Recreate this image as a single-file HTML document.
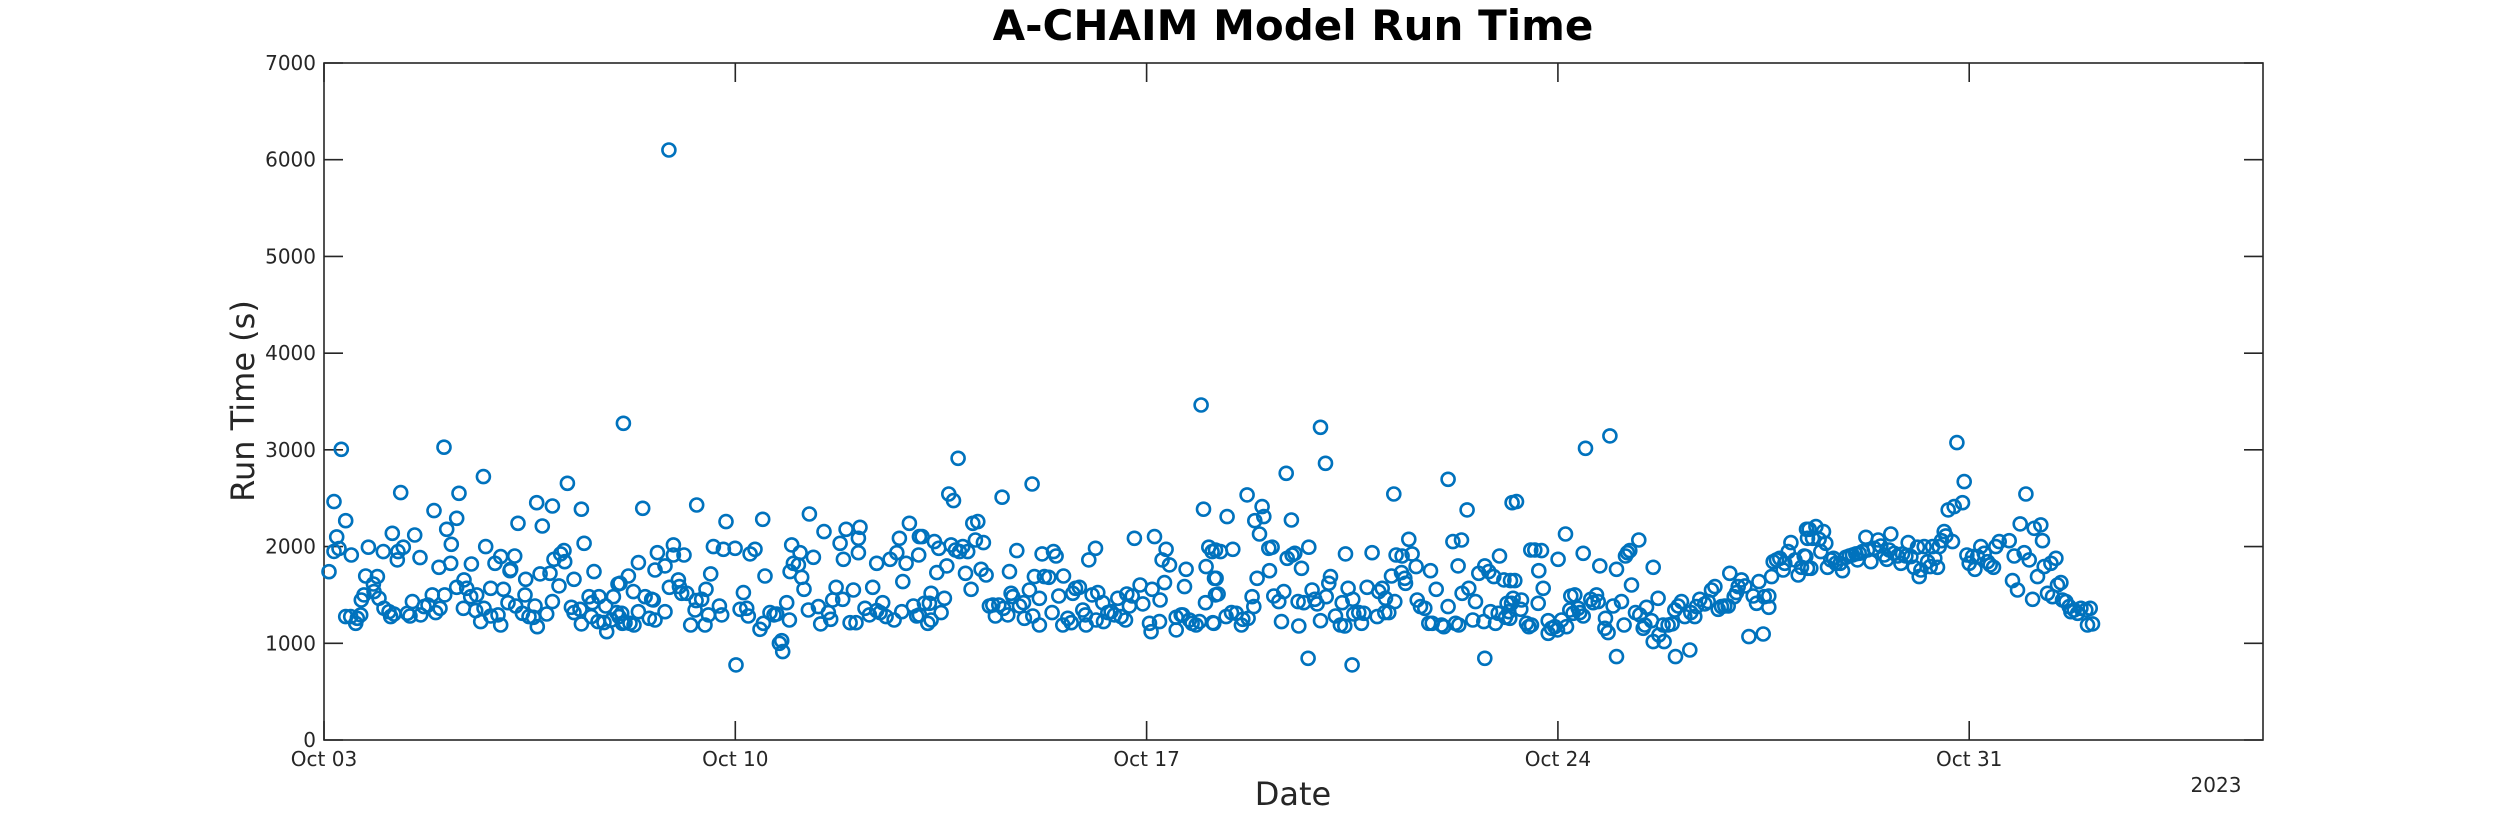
<!DOCTYPE html>
<html><head><meta charset="utf-8"><style>
html,body{margin:0;padding:0;background:#fff;}
svg{display:block;font-family:"DejaVu Sans","Liberation Sans",sans-serif;}
</style></head><body>
<svg id="chart" width="2500" height="833" viewBox="0 0 2500 833" xmlns="http://www.w3.org/2000/svg">
<rect x="0" y="0" width="2500" height="833" fill="#fff"/>
<text x="1293" y="40" text-anchor="middle" font-size="42" font-weight="bold" fill="#000">A-CHAIM Model Run Time</text>
<text transform="translate(254,401) rotate(-90)" text-anchor="middle" font-size="32" fill="#262626">Run Time (s)</text>
<text x="1293" y="805" text-anchor="middle" font-size="32" fill="#262626">Date</text>
<text x="2216" y="792" text-anchor="middle" font-size="20" fill="#262626">2023</text>
<g id="axes"></g>
<g id="marks"></g>
</svg>
<script>
const dayLabels = ["Oct 03","Oct 10","Oct 17","Oct 24","Oct 31"];
const dayTicks = [0,7,14,21,28];
const yTicks = [0,1000,2000,3000,4000,5000,6000,7000];
const days = [0.085,0.170,0.170,0.216,0.255,0.295,0.369,0.369,0.454,0.465,0.539,0.567,0.624,0.635,0.681,0.709,0.755,0.840,0.851,0.908,0.936,1.010,1.021,1.106,1.135,1.163,1.191,1.248,1.260,1.305,1.350,1.418,1.464,1.504,1.543,1.634,1.645,1.702,1.770,1.844,1.872,1.901,1.957,1.974,2.043,2.054,2.088,2.156,2.167,2.258,2.258,2.298,2.372,2.383,2.428,2.496,2.508,2.582,2.599,2.667,2.712,2.723,2.752,2.837,2.837,2.911,2.962,3.007,3.007,3.053,3.132,3.166,3.177,3.245,3.262,3.302,3.376,3.421,3.433,3.489,3.563,3.591,3.620,3.631,3.677,3.716,3.790,3.847,3.887,3.887,3.915,4.000,4.028,4.085,4.096,4.142,4.210,4.255,4.255,4.357,4.380,4.380,4.426,4.511,4.550,4.567,4.596,4.664,4.681,4.766,4.794,4.811,4.891,4.925,4.982,5.004,5.021,5.078,5.095,5.87,
5.038,5.066,5.123,5.180,5.208,5.265,5.276,5.350,5.350,5.424,5.464,5.537,5.577,5.605,5.634,5.634,5.674,5.804,5.804,5.878,5.946,5.946,6.031,6.048,6.088,6.127,6.173,6.241,6.315,6.332,6.343,6.428,6.485,6.502,6.542,6.581,6.627,6.729,6.769,6.797,6.842,6.996,7.012,7.081,7.137,7.194,7.222,7.251,7.336,7.421,7.466,7.478,7.506,7.591,7.659,7.705,7.750,7.790,7.807,7.875,7.920,7.932,7.960,7.989,8.074,8.102,8.130,8.170,8.244,8.261,8.329,8.414,8.454,8.510,8.584,8.624,8.658,8.715,8.783,8.828,8.840,8.885,8.953,9.010,9.055,9.095,9.095,9.123,9.208,9.282,9.339,9.407,9.407,9.464,9.509,9.566,9.634,9.702,9.748,9.793,9.833,9.850,9.906,9.963,10.031,10.088,10.133,
10.122,10.134,10.179,10.219,10.276,10.304,10.332,10.332,10.389,10.429,10.463,10.503,10.559,10.599,10.633,10.673,10.713,10.747,10.792,10.815,10.871,10.917,10.956,11.013,11.042,11.087,11.127,11.183,11.223,11.269,11.325,11.382,11.427,11.484,11.541,11.564,11.637,11.666,11.694,11.722,11.790,11.836,11.904,11.921,12.006,12.051,12.063,12.091,12.176,12.176,12.222,12.261,12.335,12.392,12.415,12.460,12.505,12.573,12.585,12.659,12.716,12.744,12.789,12.857,12.914,12.959,12.971,13.016,13.073,13.130,13.141,13.169,13.254,13.266,13.339,13.396,13.453,13.510,13.566,13.640,13.663,13.708,13.754,13.793,13.890,13.935,14.049,14.077,14.094,14.134,14.219,14.230,14.264,14.304,14.332,14.389,14.503,14.503,14.588,14.616,14.645,14.673,14.730,14.775,14.843,14.900,14.928,14.968,15.002,15.013,15.059,15.115,15.127,15.155,15.172,
15.143,15.172,15.183,15.217,15.257,15.353,15.370,15.444,15.467,15.524,15.614,15.637,15.711,15.728,15.796,15.824,15.841,15.881,15.921,15.966,15.994,16.080,16.091,16.136,16.165,16.250,16.295,16.335,16.375,16.392,16.465,16.477,16.522,16.579,16.590,16.636,16.675,16.749,16.760,16.817,16.863,16.902,16.959,16.959,17.044,17.056,17.101,17.129,17.214,17.299,17.328,17.373,17.385,17.430,17.498,17.509,17.526,17.612,17.657,17.697,17.753,17.838,17.924,17.952,18.009,18.054,18.066,18.122,18.168,18.207,18.224,18.247,18.338,18.349,18.395,18.406,18.463,18.519,18.587,18.605,18.661,18.735,18.803,18.831,18.860,18.928,19.018,19.058,19.132,19.132,19.212,19.257,19.302,19.314,19.359,19.370,19.455,19.484,19.552,19.597,19.654,19.739,19.756,19.756,19.824,19.853,19.909,19.938,19.983,20.006,20.080,20.108,20.136,20.165,20.193,20.221,
20.181,20.210,20.238,20.266,20.295,20.369,20.380,20.465,20.505,20.539,20.550,20.607,20.664,20.675,20.720,20.749,20.834,20.834,20.891,20.947,20.993,21.004,21.061,21.129,21.146,21.203,21.220,21.259,21.288,21.345,21.373,21.430,21.430,21.469,21.560,21.600,21.657,21.685,21.713,21.799,21.810,21.855,21.884,21.940,21.997,21.997,22.082,22.127,22.150,22.184,22.224,22.252,22.320,22.377,22.394,22.451,22.479,22.508,22.593,22.621,22.621,22.706,22.718,22.791,22.808,22.876,22.944,22.990,23.001,23.047,23.103,23.160,23.245,23.262,23.330,23.359,23.415,23.500,23.557,23.614,23.671,23.728,23.784,23.841,23.898,23.926,24.000,24.040,24.068,24.125,24.182,24.250,24.323,24.380,24.420,24.494,24.511,24.590,24.590,24.636,24.664,24.721,24.777,24.834,24.862,24.919,24.965,25.033,25.089,25.146,25.191,25.231,25.248,
25.219,25.248,25.276,25.304,25.333,25.390,25.446,25.475,25.520,25.560,25.588,25.645,25.690,25.730,25.804,25.843,25.900,25.957,26.014,26.070,26.099,26.127,26.184,26.241,26.269,26.326,26.383,26.451,26.496,26.553,26.598,26.638,26.666,26.723,26.780,26.837,26.865,26.922,26.961,27.007,27.063,27.120,27.149,27.177,27.234,27.291,27.336,27.376,27.415,27.461,27.489,27.529,27.574,27.602,27.642,27.716,27.744,27.790,27.886,27.914,27.960,27.999,28.056,28.096,28.141,28.198,28.255,28.312,28.357,28.414,28.453,28.510,28.680,28.737,28.766,28.822,28.868,28.936,28.964,29.021,29.078,29.106,29.163,29.219,29.248,29.276,29.333,29.390,29.418,29.475,29.503,29.560,29.588,29.645,29.702,29.730,29.787,29.844,29.900,29.985,30.014,30.059,30.099];
const runTimes = [1740,1950,2465,2100,1980,3006,2268,1276,1276,1913,1207,1258,1293,1448,1500,1696,1993,1613,1534,1689,1465,1948,1362,1327,1276,2137,1303,1862,1948,2558,1993,1310,1282,1431,2120,1886,1293,1379,1396,1500,2372,1317,1786,1362,3027,1500,2179,1827,2024,1579,2292,2551,1362,1655,1569,1482,1820,1338,1500,1224,2723,1362,2000,1569,1282,1827,1293,1189,1896,1558,1420,1751,1765,1903,1386,2241,1310,1500,1662,1276,1269,1386,2454,1172,1717,2213,1303,1724,1431,2420,1868,1593,1924,1958,1844,2654,1372,1317,1662,1351,2386,1200,2034,1482,1276,1420,1741,1224,1482,1214,1386,1120,1241,1482,1317,1613,1276,1207,3275,6100,
1620,1310,1213,1696,1207,1534,1189,1327,1834,2396,1482,1258,1455,1448,1758,1241,1937,1800,1327,1579,2017,1913,1655,1586,1517,1913,1517,1189,1344,1441,2430,1455,1189,1558,1293,1717,2000,1386,1293,1972,2258,1982,776,1351,1524,1362,1282,1924,1972,1145,2282,1207,1696,1317,1293,1303,1000,1027,914,1420,1241,1741,2017,1827,1810,1937,1682,1558,1344,2337,1889,1379,1200,2155,1317,1248,1448,1579,2034,1455,1868,2179,1213,1551,1213,2086,1937,2199,1362,1293,1579,1827,1338,1317,1420,1276,1868,1241,1937,2086,1327,1638,1827,2241,1386,1282,2103,
1913,1293,2103,1413,1207,1413,1241,1517,2051,1731,1982,1317,1465,1800,2544,2017,2475,1965,2913,1948,2000,1724,1948,1558,2241,2068,2258,1765,2041,1706,1386,1396,1282,1396,2510,1362,1293,1741,1517,1482,1958,1386,1420,1258,1551,2647,1282,1689,1465,1189,1924,1689,1682,1317,1948,1903,1489,1189,1696,1258,1213,1517,1569,1579,1344,1293,1189,1862,1500,1982,1241,1524,1420,1224,1317,1327,1293,1465,1276,1241,1510,1386,1489,2086,1603,1407,1207,1120,1558,2103,1224,1448,1862,1627,1972,1810,1138,1269,1293,1293,1586,1765,1241,1207,1189,1224,3464,2386,1420,1793,1993,1948,1213,1672,1500,
1207,1965,1672,1510,1948,1276,2310,1317,1972,1310,1189,1248,2534,1258,1482,1379,2268,1672,2130,2413,2310,1982,1751,1993,1489,1431,1224,1534,2758,1879,2275,1913,1930,1431,1179,1775,1420,845,1993,1551,1455,1407,3233,1234,2861,1482,1620,1689,1282,1189,1420,1179,1924,1569,776,1455,1303,1317,1207,1310,1579,1937,1276,1534,1569,1317,1465,1317,1696,2544,1431,1913,1731,1903,1672,1620,2075,1924,1793,1448,1379,1362,1207,1751,1207,1558,1189,1172,1379,2696,2051,1207,1800,1189,2068,1517,2379,1569,1241,1431,1724,1224,845,1800,1741,1327,1689,1207,1310,1903,1655,1269,1413,1327,1648,2454,
1258,1413,1465,1648,2465,1351,1448,1207,1172,1965,1189,1965,1413,1751,1958,1569,1234,1103,1155,1172,1138,1868,1241,2130,1172,1344,1489,1310,1500,1362,1317,1282,1930,3016,1455,1420,1500,1431,1800,1155,1258,1110,3144,1386,1765,862,1431,1189,1903,1937,1958,1603,1317,2068,1293,1155,1189,1372,1234,1786,1017,1465,1086,1189,1017,1189,1200,1344,862,1386,1431,1276,931,1317,1276,1379,1455,1407,1431,1551,1586,1351,1379,1386,1386,1724,1482,1524,1586,1655,1593,1069,1489,1413,1638,1096,1482,1489,1372,1689,1844,1862,1879,1758,1827,1948,2041,1862,1706,1786,1903,2179,2086,
1896,1775,2179,1775,2086,2206,2075,1948,2155,2034,1786,1862,1879,1827,1827,1751,1889,1903,1913,1924,1862,1930,1948,2096,1965,1844,1982,2068,2006,1913,1868,1965,2130,1930,1903,1827,1924,1903,2041,1896,1786,1993,1689,1758,2000,1844,1793,2000,1879,1786,2000,2061,2155,2110,2379,2051,2413,3075,2454,2672,1913,1827,1896,1765,1896,2000,1930,1844,1810,1786,2000,2051,2061,1648,1903,1551,2234,1937,2544,1862,1455,2189,1689,2224,2061,1793,1517,1827,1482,1879,1603,1627,1448,1431,1379,1327,1344,1310,1362,1344,1189,1362,1200];

const NS = "http://www.w3.org/2000/svg";
const L = 324, R = 2263, T = 63, B = 740;
const xMin = 0, xMax = 33, yMin = 0, yMax = 7000;
function xScale(d){ return L + (d - xMin) / (xMax - xMin) * (R - L); }
function yScale(v){ return B - (v - yMin) / (yMax - yMin) * (B - T); }
function mk(tag, attrs, parent){
  const el = document.createElementNS(NS, tag);
  for (const k in attrs) el.setAttribute(k, attrs[k]);
  parent.appendChild(el);
  return el;
}
const axes = document.getElementById('axes');
const marks = document.getElementById('marks');

const box = mk('rect', {x:L, y:T, width:R-L, height:B-T, fill:'none', stroke:'#262626', 'stroke-width':1.6}, axes);



yTicks.forEach(v => {
  const y = yScale(v);
  const t1 = mk('line', {x1:L, x2:L+19, y1:y, y2:y, stroke:'#262626', 'stroke-width':1.6}, axes);
  
  
  const t2 = mk('line', {x1:R-19, x2:R, y1:y, y2:y, stroke:'#262626', 'stroke-width':1.6}, axes);
  
  
  const lb = mk('text', {x:L-8, y:y+7, 'text-anchor':'end', 'font-size':20, fill:'#262626'}, axes);
  lb.textContent = String(v);
  
  
});

dayTicks.forEach((d, i) => {
  const x = xScale(d);
  const t1 = mk('line', {x1:x, x2:x, y1:B, y2:B-19, stroke:'#262626', 'stroke-width':1.6}, axes);
  
  
  const t2 = mk('line', {x1:x, x2:x, y1:T, y2:T+19, stroke:'#262626', 'stroke-width':1.6}, axes);
  
  
  const lb = mk('text', {x:x, y:B+26, 'text-anchor':'middle', 'font-size':20, fill:'#262626'}, axes);
  lb.textContent = dayLabels[i];
  
  
});

for (let i = 0; i < days.length && i < runTimes.length; i++) {
  const c = mk('circle', {cx:xScale(days[i]).toFixed(1), cy:yScale(runTimes[i]).toFixed(1), r:6.5, fill:'none', stroke:'#0072BD', 'stroke-width':2.6}, marks);
  
  
}
</script>
</body></html>
